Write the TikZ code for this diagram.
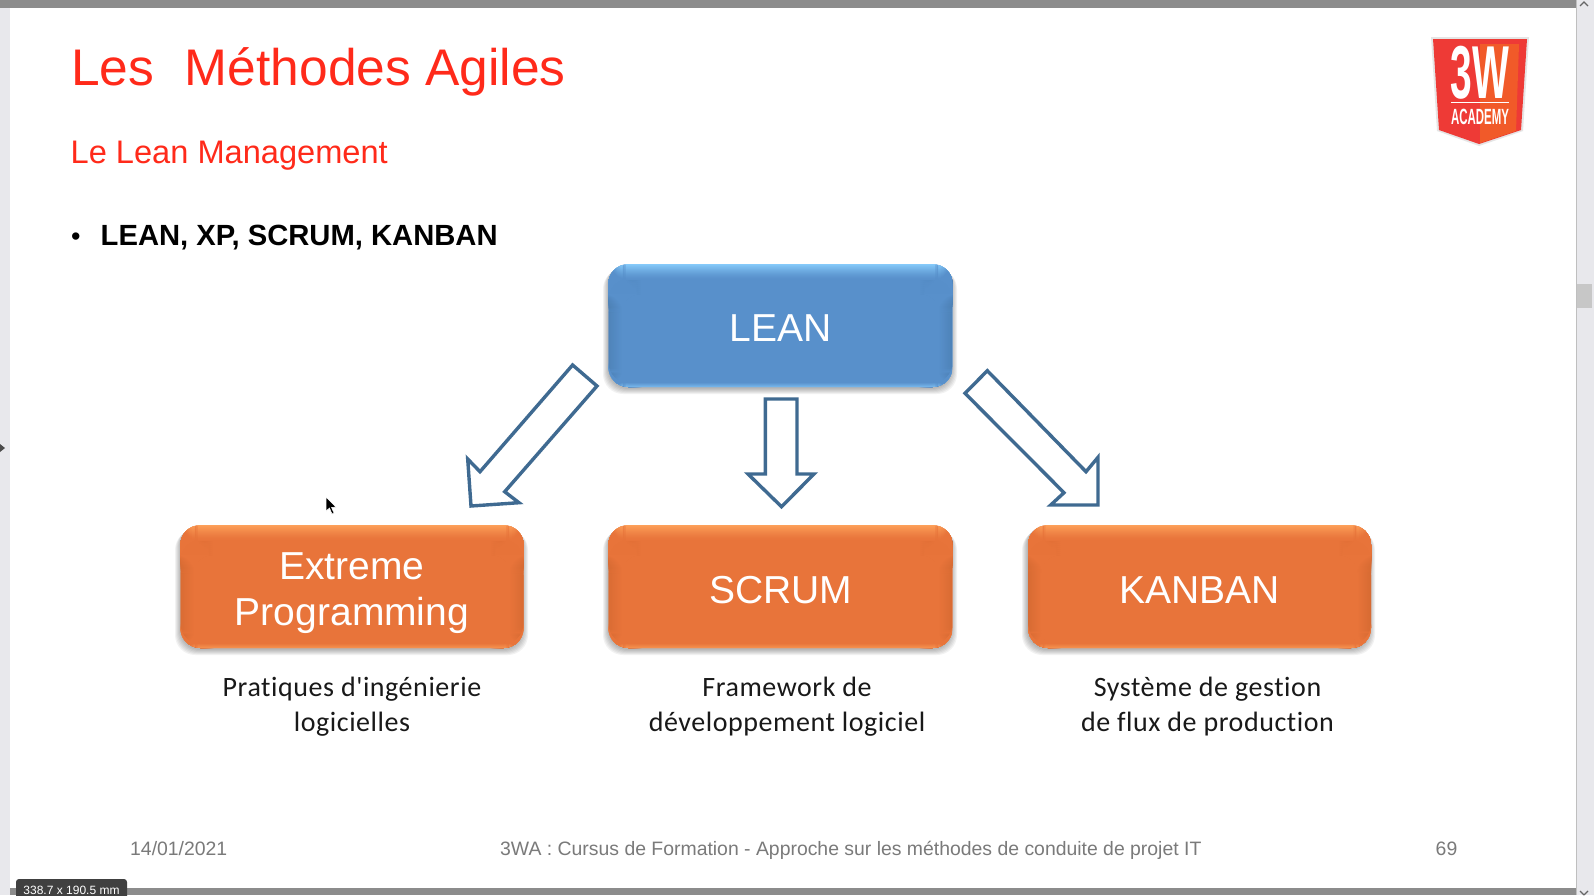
\documentclass[tikz,border=0pt]{standalone}
\usepackage{fontspec}
\setmainfont{Liberation Sans}
\newfontfamily\capfont[LetterSpace=2,Ligatures=NoCommon]{Carlito}
\newcommand\fsz[1]{\fontsize{#1}{#1}\selectfont}
\definecolor{bluebase}{HTML}{5890CB}
\definecolor{bluelight}{HTML}{8AD0FF}
\definecolor{bluedark}{HTML}{4C80B4}
\definecolor{orangebase}{HTML}{E8743A}
\definecolor{orangelight}{HTML}{FFA45C}
\definecolor{orangedark}{HTML}{D66A32}
\definecolor{arrowblue}{HTML}{3F6A91}
\definecolor{titlered}{HTML}{FF2A1A}
\definecolor{footgray}{HTML}{7A7A7A}
\definecolor{barGray}{HTML}{8C8C8C}
\definecolor{sideGray}{HTML}{E8E8EC}
\definecolor{logored}{HTML}{EE3A36}
\definecolor{logoorange}{HTML}{F15A29}
\tikzset{
  x=1pt,y=-1pt,
  glossy/.style n args={3}{rectangle,rounded corners=20pt,inner sep=0pt,
    minimum width=343pt,minimum height=123pt,align=center,text=white,font=\fsz{39},
    fill=#1,
    path picture={
      \coordinate (nw) at (path picture bounding box.north west);
      \coordinate (ne) at (path picture bounding box.north east);
      \coordinate (sw) at (path picture bounding box.south west);
      \coordinate (se) at (path picture bounding box.south east);
      \foreach \i in {0,...,13}{
        \pgfmathtruncatemacro\p{100-100*(\i+1)/14}
        \fill[#3!\p!#1] ([xshift=\i pt]sw) rectangle ([shift={(\i pt+1.2pt,-30pt)}]nw);
        \fill[#3!\p!#1] ([xshift=-\i pt]se) rectangle ([shift={(-\i pt-1.2pt,-30pt)}]ne);
        \foreach \j in {0,...,7}{
          \fill[#3!\p!#1,opacity=(\j+1)/9] ([shift={(\i pt,-14pt-2*\j pt)}]nw) rectangle ([shift={(\i pt+1.2pt,-16pt-2*\j pt)}]nw);
          \fill[#3!\p!#1,opacity=(\j+1)/9] ([shift={(-\i pt,-14pt-2*\j pt)}]ne) rectangle ([shift={(-\i pt-1.2pt,-16pt-2*\j pt)}]ne);
        }
      }
      \foreach \i in {0,...,4}{
        \pgfmathtruncatemacro\p{70*(1-(\i+1)/5)}
        \fill[#2!\p!#1] ([yshift=\i pt]sw) rectangle ([yshift=\i pt+1.2pt]se);
      }
      \foreach \i in {0,...,15}{
        \pgfmathtruncatemacro\p{100*(1-(\i+1)/16)^1.4}
        \fill[#2!\p!#1] ([yshift=-\i pt]nw) rectangle ([yshift=-\i pt-1.2pt]ne);
      }
    }},
  bluebox/.style={glossy={bluebase}{bluelight}{bluedark}},
  orangebox/.style={glossy={orangebase}{orangelight}{orangedark}},
  shadowlayer/.style={fill=black,opacity=.05,rounded corners=20pt},
  blockarrow/.style={draw=arrowblue,line width=3.4pt,fill=white,miter limit=10},
  slidetext/.style={inner sep=0pt,anchor=base west},
  caption/.style={inner sep=0pt,align=center,font=\capfont\fsz{28},text=black!90},
  foot/.style={inner sep=0pt,anchor=base west,font=\fsz{19.4},text=footgray},
}
\newcommand\boxshadow[4]{%
  \foreach \s in {0,1,...,5}{\fill[shadowlayer] (#1-\s,#2+\s) rectangle (#3+\s,#4+\s+2);}}
\begin{document}
\begin{tikzpicture}
\useasboundingbox (0,0) rectangle (1594,895);
\fill[white] (0,0) rectangle (1594,895);
% window chrome
\fill[sideGray] (0,0) rectangle (10,895);
\fill[sideGray] (1576,0) rectangle (1594,895);
\fill[barGray] (0,0) rectangle (1576,8);
\fill[barGray] (10,888) rectangle (1576,895);
\fill[black!25] (1576,0) rectangle (1577,895);
\fill[black!22] (1577,284) rectangle (1592,308);
\fill[black!70] (0,444) -- (5,448) -- (0,452) -- cycle;
\draw[black!60,line width=1.2pt] (1580,6) -- (1584,2) -- (1588,6);
\draw[black!60,line width=1.2pt] (1580,891) -- (1584,895);
\draw[black!60,line width=1.2pt] (1588,891) -- (1584,895);
% tooltip
\fill[black!75,rounded corners=3pt] (16,879) rectangle (127,900);
\node[inner sep=0pt,anchor=base,text=white,font=\fsz{12}] (tip) at (71.5,894) {338.7 x 190.5 mm};
% titles
\node[slidetext,text=titlered,font=\fsz{51.5}] (title) at (71,85.5) {Les\hspace{.32em} Méthodes Agiles};
\node[slidetext,text=titlered,font=\fsz{32.6}] (subtitle) at (70.5,163) {Le Lean Management};
\node[slidetext,font=\fsz{27}] (bullet) at (71,245) {•};
\node[slidetext,font=\bfseries\fsz{29.2}] (list) at (100.5,245) {LEAN, XP, SCRUM, KANBAN};
% logo
\fill[black!10] (1431,37) -- (1529,37) -- (1523,131) -- (1479,146) -- (1437,131) -- cycle;
\fill[logored] (1433,39) -- (1527,39) -- (1521,130) -- (1479,144) -- (1439,130) -- cycle;
\fill[logoorange] (1480,44) -- (1519,44) -- (1516,131) -- (1480,143) -- cycle;
\node[inner sep=0pt,anchor=base,text=white,font=\bfseries\fsz{75},xscale=.52] (logoa) at (1480,98) {3W};
\fill[white] (1451,101.5) rectangle (1509,103);
\node[inner sep=0pt,anchor=base,text=white,font=\bfseries\fsz{22},xscale=.52] (logob) at (1480,124) {ACADEMY};
% boxes
\boxshadow{608}{264}{952}{387}
\boxshadow{180}{525}{523}{648}
\boxshadow{608}{525}{952}{648}
\boxshadow{1027}{525}{1370}{648}
\node[bluebox,minimum width=344pt,text height=32pt,text depth=0pt] (lean) at (780.5,325.5) {LEAN};
\node[orangebox] (xp) at (352,586.5) {\rule{0pt}{40pt}Extreme\\[7pt]Programming};
\node[orangebox,minimum width=344pt,text height=34pt,text depth=0pt] (scrum) at (780.5,586.5) {SCRUM};
\node[orangebox,text height=34pt,text depth=0pt] (kanban) at (1199.5,586.5) {KANBAN};
% block arrows
\draw[blockarrow] (572.6,365) -- (597,386) -- (504.7,491.7) -- (519,502.7) -- (471,506) -- (467.7,459) -- (480,471.7) -- cycle;
\draw[blockarrow] (765.4,399) -- (797,399) -- (797,474) -- (814,474) -- (781.5,506.7) -- (748,474) -- (765.4,474) -- cycle;
\draw[blockarrow] (987.3,370.7) -- (965,393.3) -- (1064,492.7) -- (1050.7,505) -- (1098,505) -- (1098,457.3) -- (1086,471.7) -- cycle;
% captions
\node[caption] (capa) at (352,707) {Pratiques d'ingénierie\\[7pt]logicielles};
\node[caption] (capb) at (787,707) {Framework de\\[7pt]développement logiciel};
\node[caption] (capc) at (1207.5,707) {Système de gestion\\[7pt]de flux de production};
% cursor
\fill[black,draw=white,line width=.5pt] (326,497) -- (326,511) -- (329.5,508) -- (332,514) -- (334,513) -- (331.5,507.5) -- (336,507) -- cycle;
% footer
\node[foot] (date) at (130,855) {14/01/2021};
\node[foot] (course) at (500,855) {3WA : Cursus de Formation - Approche sur les méthodes de conduite de projet IT};
\node[foot] (page) at (1435.5,855) {69};
\end{tikzpicture}
\end{document}
